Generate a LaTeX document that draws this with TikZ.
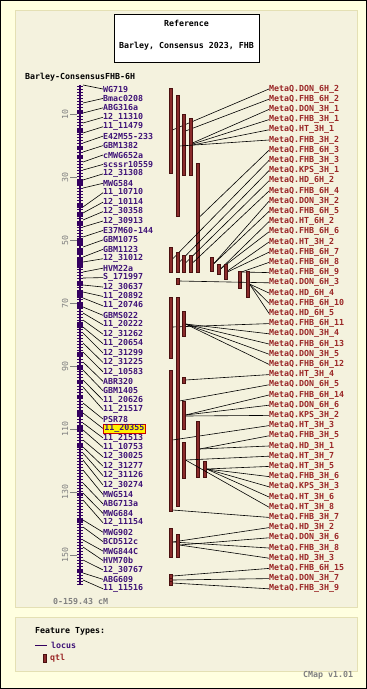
\documentclass[tikz,border=0pt]{standalone}
\usepackage{fontspec}
\setmonofont{DejaVu Sans Mono}
\usepackage{tikz}

\definecolor{outerbg}{HTML}{FFFFE0}
\definecolor{panelbg}{HTML}{F4F2DE}
\definecolor{panelline}{HTML}{E4E0B4}
\definecolor{chromcol}{HTML}{33005F}
\definecolor{locuscol}{HTML}{3F1378}
\definecolor{qtlcol}{HTML}{9A2626}
\definecolor{barfill}{HTML}{8A2B2B}
\definecolor{bardraw}{HTML}{4A1010}

\begin{document}
\begin{tikzpicture}[x=1pt, y=-1pt,
    lbl/.style={font=\ttfamily\bfseries\fontsize{8.3}{9}\selectfont, inner sep=0pt, anchor=west},
    locuslbl/.style={lbl, text=locuscol},
    hilbl/.style={lbl, text=locuscol, fill=yellow, draw=red!80!black, line width=0.8pt, inner xsep=1pt, inner ysep=0.5pt},
    qtllbl/.style={lbl, text=qtlcol},
    leader/.style={black, line width=0.6pt},
    qtlbar/.style={fill=barfill, draw=bardraw, line width=0.5pt},
    chromtick/.style={chromcol, line width=0.8pt},
    scalelbl/.style={font=\ttfamily\fontsize{8.3}{9}\selectfont, text=gray, inner sep=0pt, rotate=90}]
    \useasboundingbox (0,0) rectangle (367,689);
    % frames
    \draw[black, fill=outerbg] (0.5,0.5) rectangle (366.5,688.5);
    \draw[panelline, fill=panelbg] (15,10) rectangle (357,607);
    \draw[panelline, fill=panelbg] (15,617) rectangle (357,671);
    \draw[black, fill=white] (114,14) rectangle (259,62);
    \node[lbl, anchor=center] (ttl1) at (186.5,23) {Reference};
    \node[lbl, anchor=center] (ttl2) at (186.5,46) {Barley, Consensus 2023, FHB};
    \node[lbl] (mapname) at (25,77) {Barley-ConsensusFHB-6H};

    % chromosome
    \draw[chromcol, line width=1.6pt] (80,85) -- (80,585);
    \foreach \t in {86,89,...,584}
        \draw[chromtick] (77,\t) -- (83,\t);
    \foreach \yb/\h in {112/4,131/4,148/3,157/3,183/6,206/4,215/4,224/4,242/8,252/6,263/10,
                         284/4,294/8,305/6,325/6,354/4,368/4,382/4,397/4,414/6,428/5,446/4,
                         494/3,521/4,571/4}
        \fill[chromcol] (77,\yb-\h/2) rectangle (83,\yb+\h/2);
    % scale
    \foreach \c in {10,30,...,150} {
        \draw[gray] (70,82.5+3.15*\c) -- (77,82.5+3.15*\c);
        \node[scalelbl] (cm\c) at (65,82.5+3.15*\c) {\c};
    }
    \node[lbl, text=gray] (range) at (53,601) {0-159.43 cM};

    % loci
    \foreach \name/\my [count=\i] in {WG719/85, Bmac0208/103, ABG316a/113, 12\_11310/123,
        11\_11479/133, E42M55-233/143, GBM1382/152, cMWG652a/162, scssr10559/170,
        12\_31308/180, MWG584/188, 11\_10710/207, 12\_10114/213, 12\_30358/220,
        12\_30913/227, E37M60-144/237, GBM1075/247, GBM1123/257, 12\_31012/262,
        HVM22a/272, S\_171997/278, 12\_30637/285, 11\_20892/292, 11\_20746/298,
        GBMS022/307, 11\_20222/313, 12\_31262/320, 11\_20654/327, 12\_31299/333,
        12\_31225/343, 12\_10583/352, ABR320/362, GBM1405/370, 11\_20626/380,
        11\_21517/387, PSR78/403, 11\_20355/413, 11\_21513/423, 11\_10753/430,
        12\_30025/440, 12\_31277/447, 12\_31126/453, 12\_30274/460, MWG514/470,
        ABG713a/483, MWG684/493, 12\_11154/500, MWG902/520, BCD512c/527,
        MWG844C/540, HVM70b/547, 12\_30767/560, ABG609/573, 11\_11516/580} {
        \ifnum\i=37 \def\sty{hilbl}\else\def\sty{locuslbl}\fi
        \coordinate (mk\i) at (83,\my);
        \node[\sty] (L\i) at (103,89+9.43*\i-9.43) {\name};
        \draw[leader] (mk\i) -- (L\i.west);
    }

    % qtls
    \foreach \name/\xb/\yt/\yb/\ys [count=\i] in {DON\_6H\_2/169/88/173/130,
        FHB\_6H\_2/182/114/175/131, DON\_3H\_1/189/118/175/143, FHB\_3H\_1/189/118/175/144,
        HT\_3H\_1/189/118/175/145, FHB\_3H\_2/176/95/216/146, FHB\_6H\_3/196/163/272/217,
        FHB\_3H\_3/169/247/272/259, KPS\_3H\_1/176/252/272/262, HD\_6H\_2/182/255/272/263,
        FHB\_6H\_4/189/255/272/263, DON\_3H\_2/210/257/271/264, FHB\_6H\_5/210/257/271/264,
        HT\_6H\_2/217/264/274/269, FHB\_6H\_6/217/264/274/269, HT\_3H\_2/224/264/279/271,
        FHB\_6H\_7/224/264/279/272, FHB\_6H\_8/238/271/288/272, FHB\_6H\_9/238/271/288/272,
        DON\_6H\_3/176/278/284/281, HD\_6H\_4/246/271/297/284, FHB\_6H\_10/246/271/297/284,
        HD\_6H\_5/246/271/297/284, FHB\_6H\_11/169/297/358/327, DON\_3H\_4/182/311/336/324,
        FHB\_6H\_13/182/311/336/324, DON\_3H\_5/182/311/336/324, FHB\_6H\_12/182/311/336/324,
        HT\_3H\_4/182/377/383/380, DON\_6H\_5/176/297/506/401, FHB\_6H\_14/182/401/429/415,
        DON\_6H\_6/182/401/429/415, KPS\_3H\_2/182/401/429/416, HT\_3H\_3/169/370/511/440,
        FHB\_3H\_5/196/421/477/449, HD\_3H\_1/196/421/477/449, HT\_3H\_7/182/442/478/460,
        HT\_3H\_5/203/461/477/469, FHB\_3H\_6/203/461/477/469, KPS\_3H\_3/203/461/477/469,
        HT\_3H\_6/203/461/477/469, HT\_3H\_8/182/442/478/460, FHB\_3H\_7/169/370/511/510,
        HD\_3H\_2/169/528/557/542, DON\_3H\_6/176/534/557/545, FHB\_3H\_8/169/528/557/542,
        HD\_3H\_3/176/534/557/545, FHB\_6H\_15/169/574/578/576, DON\_3H\_7/169/578/582/580,
        FHB\_3H\_9/169/581/585/583} {
        \coordinate (qs\i) at (\xb+3.5,\ys);
        \node[qtllbl] (Q\i) at (269,89+10.2*\i-10.2) {MetaQ.\name};
        \draw[leader] (qs\i) -- (Q\i.west);
        \draw[qtlbar] (\xb,\yt) rectangle (\xb+3.5,\yb);
    }

    % legend
    \node[lbl] (ftypes) at (35,631) {Feature Types:};
    \coordinate (lgl) at (35,645);
    \node[locuslbl] (lglocus) at (51,645) {locus};
    \draw[chromcol, line width=0.8pt, shorten >=4pt] (lgl) -- (lglocus.west);
    \draw[qtlbar] (43,654) rectangle (46,662);
    \node[qtllbl] (lgqtl) at (50,658) {qtl};
    \node[lbl, text=gray] (version) at (303,675) {CMap v1.01};
\end{tikzpicture}
\end{document}
